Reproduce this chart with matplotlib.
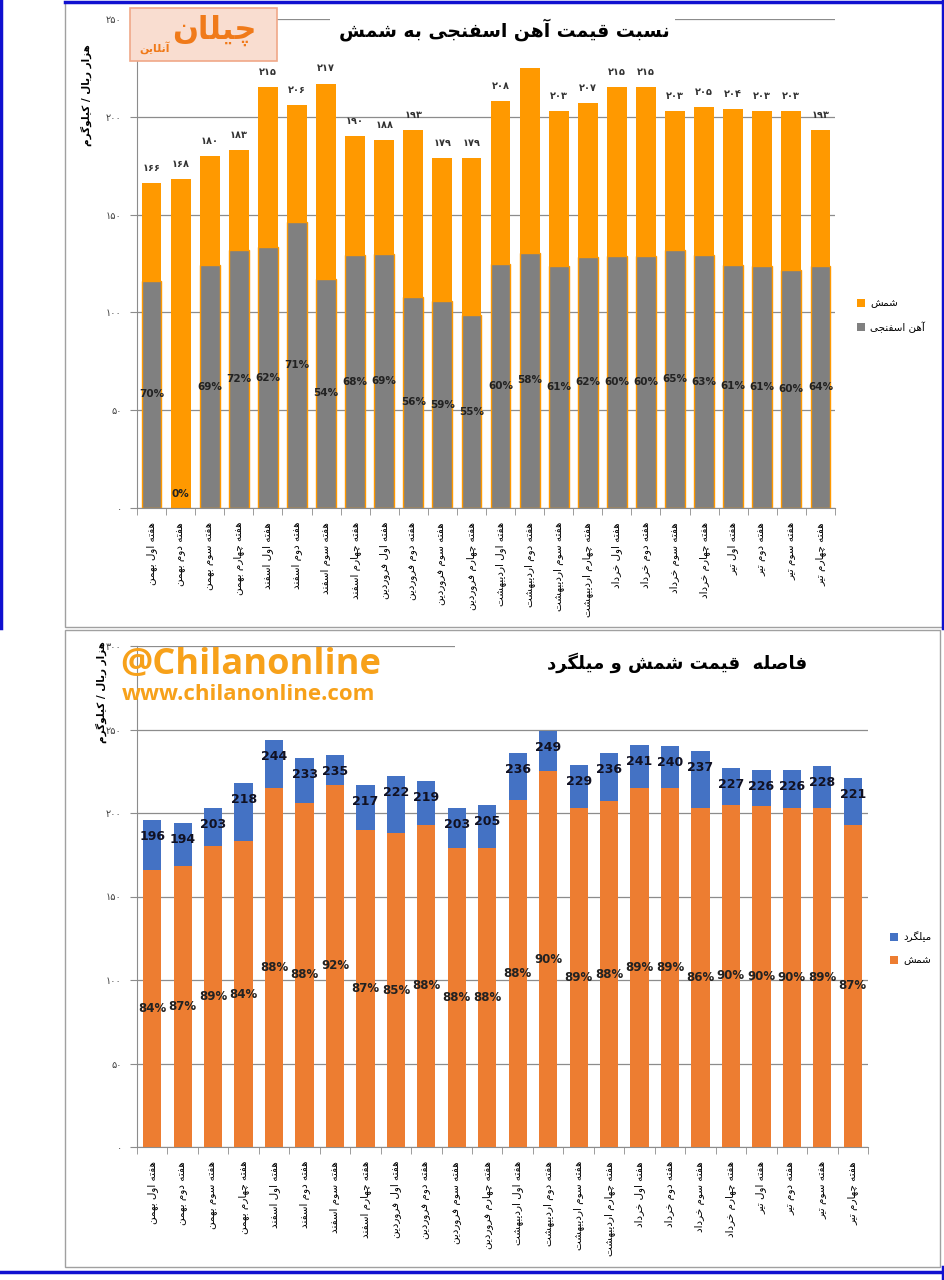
import matplotlib
matplotlib.use("Agg")
import numpy as np
import matplotlib.pyplot as plt
from matplotlib.patches import Rectangle
from matplotlib.lines import Line2D

# --- data -------------------------------------------------------------
months = ["بهمن", "اسفند", "فروردین", "اردیبهشت", "خرداد", "تیر"]
weeks = ["اول", "دوم", "سوم", "چهارم"]
categories = ["هفته %s %s" % (w, m) for m in months for w in weeks]

billet = [166, 168, 180, 183, 215, 206, 217, 190, 188, 193, 179, 179,
          208, 225, 203, 207, 215, 215, 203, 205, 204, 203, 203, 193]
sponge_pct = [70, 0, 69, 72, 62, 71, 54, 68, 69, 56, 59, 55,
              60, 58, 61, 62, 60, 60, 65, 63, 61, 61, 60, 64]
rebar = [196, 194, 203, 218, 244, 233, 235, 217, 222, 219, 203, 205,
         236, 249, 229, 236, 241, 240, 237, 227, 226, 226, 228, 221]
billet_pct = [84, 87, 89, 84, 88, 88, 92, 87, 85, 88, 88, 88,
              88, 90, 89, 88, 89, 89, 86, 90, 90, 90, 89, 87]

top_ticks = [0, 50, 100, 150, 200, 250]
bot_ticks = [0, 50, 100, 150, 200, 250, 300]

# --- tiny persian shaper (mpl has no complex text layout) -------------
FORMS = {
    'ا': (0xFE8D, 0xFE8E), 'آ': (0xFE81, 0xFE82),
    'ب': (0xFE8F, 0xFE90, 0xFE91, 0xFE92), 'پ': (0xFB56, 0xFB57, 0xFB58, 0xFB59),
    'ت': (0xFE95, 0xFE96, 0xFE97, 0xFE98), 'ج': (0xFE9D, 0xFE9E, 0xFE9F, 0xFEA0),
    'چ': (0xFB7A, 0xFB7B, 0xFB7C, 0xFB7D), 'خ': (0xFEA5, 0xFEA6, 0xFEA7, 0xFEA8),
    'د': (0xFEA9, 0xFEAA), 'ر': (0xFEAD, 0xFEAE), 'ز': (0xFEAF, 0xFEB0),
    'س': (0xFEB1, 0xFEB2, 0xFEB3, 0xFEB4), 'ش': (0xFEB5, 0xFEB6, 0xFEB7, 0xFEB8),
    'ص': (0xFEB9, 0xFEBA, 0xFEBB, 0xFEBC), 'ف': (0xFED1, 0xFED2, 0xFED3, 0xFED4),
    'ق': (0xFED5, 0xFED6, 0xFED7, 0xFED8), 'ک': (0xFB8E, 0xFB8F, 0xFB90, 0xFB91),
    'گ': (0xFB92, 0xFB93, 0xFB94, 0xFB95), 'ل': (0xFEDD, 0xFEDE, 0xFEDF, 0xFEE0),
    'م': (0xFEE1, 0xFEE2, 0xFEE3, 0xFEE4), 'ن': (0xFEE5, 0xFEE6, 0xFEE7, 0xFEE8),
    'و': (0xFEED, 0xFEEE), 'ه': (0xFEE9, 0xFEEA, 0xFEEB, 0xFEEC),
    'ی': (0xFBFC, 0xFBFD, 0xFBFE, 0xFBFF),
}


def fa(s):
    out = []
    for i, c in enumerate(s):
        if c not in FORMS:
            out.append(c)
            continue
        f = FORMS[c]
        prev = s[i - 1] if i > 0 else ''
        nxt = s[i + 1] if i < len(s) - 1 else ''
        jp = prev in FORMS and len(FORMS[prev]) == 4
        jn = len(f) == 4 and nxt in FORMS
        if jp and jn:
            g = f[3]
        elif jp:
            g = f[1]
        elif jn:
            g = f[2]
        else:
            g = f[0]
        out.append(chr(g))
    return ''.join(out)[::-1]


def fa_num(n):
    return ''.join(chr(0x06F0 + int(d)) for d in str(n))


W, H = 945, 1280
fx = lambda px: px / W
fy = lambda py: 1 - py / H
FAM = ['DejaVu Sans']

fig = plt.figure(figsize=(9.45, 12.8), dpi=100)

# frames
fig.add_artist(Rectangle((fx(65), fy(627)), fx(943) - fx(65), fy(2) - fy(627),
                         fill=False, ec='#a0a0a0', lw=1, transform=fig.transFigure))
fig.add_artist(Rectangle((fx(65), fy(1267)), fx(940) - fx(65), fy(630) - fy(1267),
                         fill=False, ec='#a0a0a0', lw=1, transform=fig.transFigure))
for xs, ys in [([fx(1.5), fx(1.5)], [fy(0), fy(628)]),
               ([fx(65), fx(943)], [fy(2), fy(2)]),
               ([fx(943), fx(943)], [fy(0), fy(628)]),
               ([fx(943), fx(943)], [fy(1267), fy(1280)]),
               ([fx(0), fx(945)], [fy(1272), fy(1272)])]:
    fig.add_artist(Line2D(xs, ys, color='#1010d0', lw=2.5, transform=fig.transFigure))

x = np.arange(len(categories))
sponge = [b * p / 100 for b, p in zip(billet, sponge_pct)]


def style_axis(ax, ticks, top):
    ax.set_xlim(-0.5, len(categories) - 0.5)
    ax.set_ylim(0, top)
    ax.set_yticks(ticks)
    ax.set_yticklabels([fa_num(t) for t in ticks], family=FAM, fontsize=7, color='#404040')
    ax.yaxis.grid(True, color='#8c8c8c', lw=0.9)
    ax.set_axisbelow(True)
    for s in ['top', 'right']:
        ax.spines[s].set_visible(False)
    for s in ['left', 'bottom']:
        ax.spines[s].set_color('#8c8c8c')
    ax.tick_params(axis='y', length=5, color='#8c8c8c', pad=6)
    ax.set_xticks(x)
    ax.set_xticklabels([fa(c) for c in categories], rotation=90, family=FAM,
                       fontsize=7.5, va='top', ha='center')
    ax.tick_params(axis='x', which='major', length=0, pad=10)
    ax.set_xticks(np.arange(-0.5, len(categories), 1), minor=True)
    ax.tick_params(axis='x', which='minor', length=5, color='#8c8c8c')


# --- top chart --------------------------------------------------------
ax1 = fig.add_axes([fx(137), fy(508), fx(835) - fx(137), fy(19) - fy(508)])
ax1.bar(x, billet, width=0.68, color='#ff9900', zorder=2)
ax1.bar(x, sponge, width=0.68, color='#808080', edgecolor='#ff9900', lw=1, zorder=3)
style_axis(ax1, top_ticks, 250)
for i in range(len(x)):
    ax1.annotate(fa_num(billet[i]), (x[i], billet[i]), xytext=(0, 11),
                 textcoords='offset points', ha='center', va='center',
                 family=FAM, fontsize=7, fontweight='bold', color='#333333')
    ypos = sponge[i] / 2 if sponge[i] > 0 else 7
    ax1.text(x[i], ypos, "%d%%" % sponge_pct[i], ha='center', va='center',
             fontsize=7.5, fontweight='bold', color='#222222', zorder=5)

# logo
fig.add_artist(Rectangle((fx(130), fy(61)), fx(277) - fx(130), fy(8) - fy(61),
                         fc='#f9ddd0', ec='#f0a888', lw=1.2, transform=fig.transFigure))
fig.text(fx(214), fy(30), fa("چیلان"), family=FAM, fontsize=22, fontweight='bold',
         color='#f07a1a', ha='center', va='center')
fig.text(fx(155), fy(48), fa("آنلاین"), family=FAM, fontsize=8, fontweight='bold',
         color='#f07a1a', ha='center', va='center')

fig.add_artist(Rectangle((fx(330), fy(57)), fx(675) - fx(330), fy(8) - fy(57),
                         fc='white', ec='none', transform=fig.transFigure))
fig.text(fx(504), fy(30), fa("نسبت قیمت آهن اسفنجی به شمش"), family=FAM,
         fontsize=13.5, fontweight='bold', ha='center', va='center')
fig.text(fx(86), fy(95), fa("هزار ریال / کیلوگرم"), family=FAM, fontsize=7.5,
         fontweight='bold', rotation=90, ha='center', va='center')

# legend top
for py, col, lab in [(303, '#ff9900', "شمش"), (327, '#808080', "آهن اسفنجی")]:
    fig.add_artist(Rectangle((fx(857), fy(py + 4)), fx(8), 8 / H, fc=col, ec='none',
                             transform=fig.transFigure))
    fig.text(fx(870), fy(py), fa(lab), family=FAM, fontsize=7.5, ha='left', va='center')

# --- bottom chart -----------------------------------------------------
ax2 = fig.add_axes([fx(137), fy(1147), fx(868) - fx(137), fy(646) - fy(1147)])
ax2.bar(x, rebar, width=0.6, color='#4472c4', zorder=2)
ax2.bar(x, billet, width=0.6, color='#ed7d31', zorder=3)
style_axis(ax2, bot_ticks, 300)
for i in range(len(x)):
    ax2.annotate(str(rebar[i]), (x[i], rebar[i]), xytext=(0, -12),
                 textcoords='offset points', ha='center', va='center',
                 fontsize=9, fontweight='bold', color='#111122', zorder=5)
    ax2.text(x[i], billet[i] / 2, "%d%%" % billet_pct[i], ha='center', va='center',
             fontsize=8.5, fontweight='bold', color='#222222', zorder=5)

fig.add_artist(Rectangle((fx(455), fy(715)), fx(872) - fx(455), fy(638) - fy(715),
                         fc='white', ec='none', transform=fig.transFigure))
fig.text(fx(677), fy(663), fa("فاصله  قیمت شمش و میلگرد"), family=FAM,
         fontsize=13, fontweight='bold', ha='center', va='center')
fig.text(fx(101), fy(692), fa("هزار ریال / کیلوگرم"), family=FAM, fontsize=7.5,
         fontweight='bold', rotation=90, ha='center', va='center')

# watermark
fig.text(fx(120), fy(665), "@Chilanonline", family=['Open Sans', 'DejaVu Sans'],
         fontsize=26, fontweight='bold', color='#f7a11a', ha='left', va='center')
fig.text(fx(122), fy(695), "www.chilanonline.com", family=['Open Sans', 'DejaVu Sans'],
         fontsize=16, fontweight='bold', color='#f7a11a', ha='left', va='center')

# legend bottom
for py, col, lab in [(937, '#4472c4', "میلگرد"), (960, '#ed7d31', "شمش")]:
    fig.add_artist(Rectangle((fx(890), fy(py + 4)), fx(8), 8 / H, fc=col, ec='none',
                             transform=fig.transFigure))
    fig.text(fx(903), fy(py), fa(lab), family=FAM, fontsize=7.5, ha='left', va='center')

fig.savefig("out.png", dpi=100)
